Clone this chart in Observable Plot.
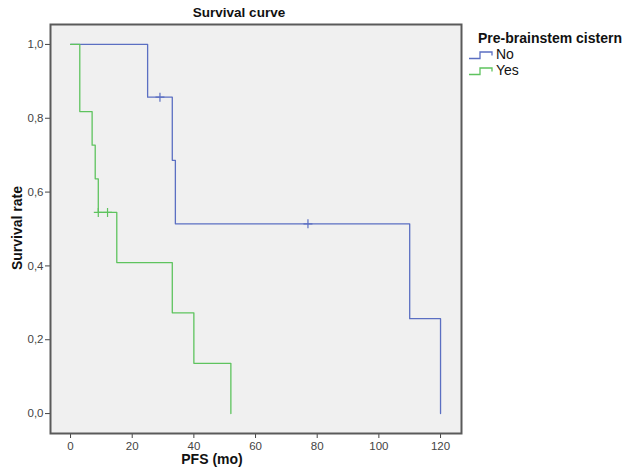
<!DOCTYPE html>
<html>
<head>
<meta charset="utf-8">
<script src="https://cdn.jsdelivr.net/npm/d3@7"></script>
<script src="https://cdn.jsdelivr.net/npm/@observablehq/plot@0.6"></script>
<style>
  body { margin: 0; background: #fff; font-family: "Liberation Sans", Arial, sans-serif; }
  #wrap { position: relative; width: 623px; height: 471px; }
  .lbl { position: absolute; font-weight: bold; color: #111; white-space: nowrap; }
  #legend { position: absolute; left: 468px; top: 30px; font-size: 14px; color: #111; }
  #legend .row { display: flex; align-items: center; height: 16px; }
  #legend svg { margin-right: 3px; }
</style>
</head>
<body>
<div id="wrap"></div>
<script>
const groups = ["No", "Yes"];
const colors = ["#5b6fc2", "#5ec35e"];

const noTimes = [0, 25, 33, 34, 110, 120];
const noSurv  = [1.0, 0.857, 0.686, 0.514, 0.257, 0.0];
const yesTimes = [0, 3, 7, 8, 9, 15, 33, 40, 52];
const yesSurv  = [1.0, 0.818, 0.727, 0.636, 0.545, 0.409, 0.273, 0.136, 0.0];

const noCensorTimes = [29, 77];
const noCensorSurv = [0.857, 0.514];
const yesCensorTimes = [9, 12];
const yesCensorSurv = [0.545, 0.545];

const xTicks = [0, 20, 40, 60, 80, 100, 120];
const yTicks = [0, 0.2, 0.4, 0.6, 0.8, 1.0];

const noData = noTimes.map((t, i) => ({t, s: noSurv[i], g: "No"}));
const yesData = yesTimes.map((t, i) => ({t, s: yesSurv[i], g: "Yes"}));
const noCens = noCensorTimes.map((t, i) => ({t, s: noCensorSurv[i], g: "No"}));
const yesCens = yesCensorTimes.map((t, i) => ({t, s: yesCensorSurv[i], g: "Yes"}));

const fmt = d => d3.format(".1f")(d).replace(".", ",");

const chart = Plot.plot({
  width: 623,
  height: 471,
  marginLeft: 50,
  marginRight: 162,
  marginTop: 24,
  marginBottom: 38,
  style: { fontFamily: "Liberation Sans, Arial, sans-serif", background: "transparent" },
  x: { domain: [-6.5, 126.8] },
  y: { domain: [-0.054, 1.054] },
  color: { domain: groups, range: colors },
  marks: [
    Plot.frame({ fill: "#f0f0f0", stroke: "none" }),
    Plot.axisX({ ticks: xTicks, tickSize: 5, tickPadding: 3, tickFormat: d => d, fontSize: 11.5, color: "#444", stroke: "#444", label: null }),
    Plot.axisY({ ticks: yTicks, tickSize: 5, tickPadding: 2, tickFormat: fmt, fontSize: 11.5, color: "#444", stroke: "#444", label: null }),
    Plot.line(noData, { x: "t", y: "s", stroke: "g", curve: "step-after", strokeWidth: 1.3 }),
    Plot.dot(noCens, { x: "t", y: "s", stroke: "g", symbol: "plus", r: 3, strokeWidth: 1.2 }),
    Plot.line(yesData, { x: "t", y: "s", stroke: "g", curve: "step-after", strokeWidth: 1.3 }),
    Plot.dot(yesCens, { x: "t", y: "s", stroke: "g", symbol: "plus", r: 3, strokeWidth: 1.2 }),
    Plot.frame({ stroke: "#5a5a5a", strokeWidth: 2 })
  ]
});

const wrap = document.getElementById("wrap");
wrap.appendChild(chart);

function addLabel(text, css) {
  const d = document.createElement("div");
  d.className = "lbl";
  d.textContent = text;
  Object.assign(d.style, css);
  wrap.appendChild(d);
  return d;
}
addLabel("Survival curve", { left: "239px", top: "5px", fontSize: "13.5px", transform: "translateX(-50%)" });
addLabel("PFS (mo)", { left: "212px", top: "451px", fontSize: "14px", transform: "translateX(-50%)" });
addLabel("Survival rate", { left: "17px", top: "228px", fontSize: "14px", transform: "translate(-50%,-50%) rotate(-90deg)" });

const legend = document.createElement("div");
legend.id = "legend";
const title = document.createElement("div");
title.style.fontWeight = "bold";
title.style.marginLeft = "10px";
title.style.marginBottom = "0px";
title.textContent = "Pre-brainstem cistern";
legend.appendChild(title);
groups.forEach((g, i) => {
  const row = document.createElement("div");
  row.className = "row";
  row.innerHTML = `<svg width="25" height="12"><path d="M1,10.5 H12 V4 H24 V7.5" fill="none" stroke="${colors[i]}" stroke-width="1.3"/></svg><span>${g}</span>`;
  legend.appendChild(row);
});
wrap.appendChild(legend);
</script>
</body>
</html>
